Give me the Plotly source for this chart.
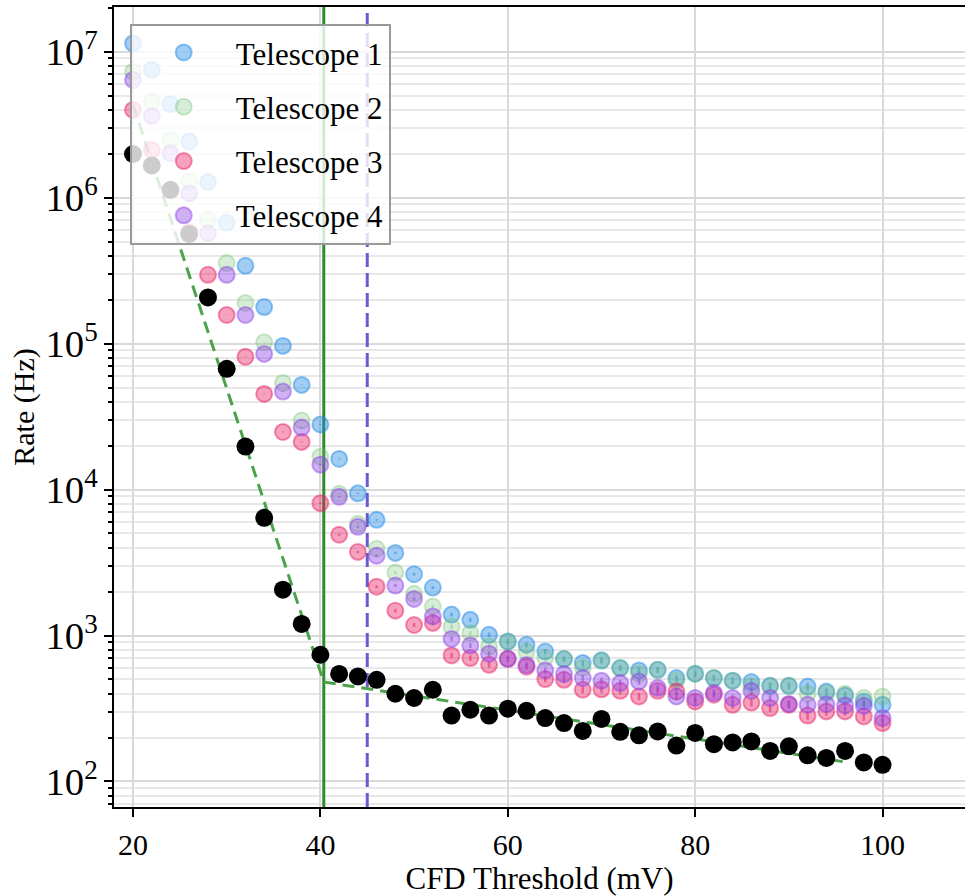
import math
import plotly.graph_objects as go

# ---------------- data ----------------
thresholds = [20, 22, 24, 26, 28, 30, 32, 34, 36, 38, 40, 42, 44, 46, 48, 50, 52, 54, 56, 58,
              60, 62, 64, 66, 68, 70, 72, 74, 76, 78, 80, 82, 84, 86, 88, 90, 92, 94, 96, 98, 100]

rate_t1 = [1.14e7, 7.50e6, 4.37e6, 2.42e6, 1.28e6, 6.75e5, 3.41e5, 1.78e5, 9.64e4, 5.21e4,
           2.79e4, 1.62e4, 9.42e3, 6.20e3, 3.68e3, 2.63e3, 2.13e3, 1.39e3, 1.28e3, 1.01e3,
           910, 864, 777, 689, 647, 676, 598, 576, 582, 511,
           547, 511, 490, 480, 452, 452, 447, 413, 388, 353, 335]

rate_t2 = [7.29e6, 4.55e6, 2.48e6, 1.29e6, 7.00e5, 3.56e5, 1.90e5, 1.02e5, 5.38e4, 2.97e4,
           1.68e4, 9.35e3, 5.82e3, 3.93e3, 2.70e3, 1.93e3, 1.58e3, 1.15e3, 1.04e3, 841,
           906, 773, 703, 689, 601, 671, 598, 547, 582, 490,
           547, 511, 490, 452, 452, 452, 399, 403, 399, 374, 382]

rate_t3 = [3.99e6, 2.12e6, 1.12e6, 5.80e5, 2.96e5, 1.57e5, 8.11e4, 4.52e4, 2.48e4, 2.12e4,
           8.07e3, 4.90e3, 3.74e3, 2.16e3, 1.48e3, 1.18e3, 1.22e3, 730, 700, 630,
           692, 611, 503, 497, 425, 428, 418, 382, 418, 413,
           353, 393, 335, 347, 318, 335, 283, 302, 302, 279, 251]

rate_t4 = [6.40e6, 3.62e6, 2.01e6, 1.07e6, 5.70e5, 2.96e5, 1.57e5, 8.50e4, 4.69e4, 2.66e4,
           1.48e4, 8.91e3, 5.55e3, 3.52e3, 2.20e3, 1.78e3, 1.35e3, 948, 854, 750,
           692, 629, 576, 544, 511, 490, 472, 484, 438, 382,
           373, 405, 373, 418, 373, 340, 335, 338, 332, 330, 272]

rate_coinc = [1.99e6, 1.66e6, 1.13e6, 5.64e5, 2.07e5, 6.71e4, 1.97e4, 6.40e3, 2.06e3, 1.20e3,
              738, 545, 524, 497, 399, 373, 425, 283, 310, 283,
              315, 305, 272, 251, 222, 268, 219, 207, 220, 176,
              215, 180, 185, 188, 162, 174, 151, 145, 162, 135, 130]

fit_low_x = [20, 40.36]
fit_low_y = [4.3e6, 480]
fit_high_x = [40.36, 96]
fit_high_y = [480, 136]

threshold_solid = 40.36
threshold_dashed = 45.0

live_time = 0.8  # s, for Poisson error bars

x_range = [17.97, 108.8]
log_y_range = [1.825, 7.306]

series_names = ["Telescope 1", "Telescope 2", "Telescope 3", "Telescope 4"]
series_rates = [rate_t1, rate_t2, rate_t3, rate_t4]
series_rgb = [(30, 136, 229), (110, 190, 110), (233, 30, 99), (142, 68, 230)]
series_alpha = [0.42, 0.28, 0.42, 0.42]

FONT = "Liberation Serif, Times New Roman, serif"

fig = go.Figure()

# vertical threshold lines spanning the full y axis
y_span = [10 ** log_y_range[0], 10 ** log_y_range[1]]
fig.add_trace(go.Scatter(x=[threshold_solid, threshold_solid], y=y_span, mode="lines",
                         line=dict(color="#2e8b2e", width=3),
                         showlegend=False, hoverinfo="skip", cliponaxis=True))
fig.add_trace(go.Scatter(x=[threshold_dashed, threshold_dashed], y=y_span, mode="lines",
                         line=dict(color="#6a5acd", width=3, dash="14px,6px"),
                         showlegend=False, hoverinfo="skip", cliponaxis=True))

# fit lines
for fx, fy in [(fit_low_x, fit_low_y), (fit_high_x, fit_high_y)]:
    fig.add_trace(go.Scatter(x=fx, y=fy, mode="lines",
                             line=dict(color="#4aa34a", width=3, dash="12px,7px"),
                             showlegend=False, hoverinfo="skip"))

for i, (name, rates, rgb, a) in enumerate(zip(series_names, series_rates, series_rgb, series_alpha)):
    r, g, b = rgb
    err = [math.sqrt(v / live_time) for v in rates]
    fig.add_trace(go.Scatter(
        x=thresholds, y=rates, mode="markers", name=name,
        legendgroup=name,
        marker=dict(size=16, color=f"rgba({r},{g},{b},{a})",
                    line=dict(width=2, color=f"rgba({r},{g},{b},{a + 0.05})")),
        error_y=dict(type="data", array=err, visible=True, thickness=2.5, width=0,
                     color=f"rgba({r},{g},{b},{a + 0.1})"),
    ))

fig.add_trace(go.Scatter(x=thresholds, y=rate_coinc, mode="markers",
                         marker=dict(size=18, color="black"),
                         showlegend=False))

fig.update_layout(
    width=965, height=896,
    margin=dict(l=114, r=0, t=7, b=89),
    plot_bgcolor="white", paper_bgcolor="white",
    font=dict(family=FONT, size=30, color="black"),
    legend=dict(x=0.0185, y=0.979, xanchor="left", yanchor="top",
                bgcolor="rgba(255,255,255,0.8)", bordercolor="#999999", borderwidth=2,
                font=dict(family=FONT, size=31), tracegroupgap=11, itemwidth=94),
)

fig.update_xaxes(
    range=x_range, tick0=20, dtick=20,
    ticks="outside", ticklen=8, tickwidth=2, tickcolor="black",
    showline=True, linewidth=2, linecolor="black", mirror=True,
    showgrid=True, gridcolor="#d9d9d9", gridwidth=2, zeroline=False,
    tickfont=dict(family=FONT, size=30), ticklabelstandoff=2,
    title=dict(text="CFD Threshold (mV)", font=dict(family=FONT, size=31), standoff=2),
)

fig.update_yaxes(
    type="log", range=log_y_range, dtick=1, exponentformat="power", showexponent="all",
    ticks="outside", ticklen=8, tickwidth=2, tickcolor="black",
    showline=True, linewidth=2, linecolor="black", mirror=False,
    showgrid=True, gridcolor="#d9d9d9", gridwidth=2, zeroline=False,
    minor=dict(dtick="D1", ticks="outside", ticklen=4, tickwidth=1.5, tickcolor="black",
               showgrid=True, gridcolor="#e8e8e8", gridwidth=1.5),
    tickfont=dict(family=FONT, size=31),
    title=dict(text="Rate (Hz)", font=dict(family=FONT, size=30), standoff=2),
)

fig.write_html("out.html")
